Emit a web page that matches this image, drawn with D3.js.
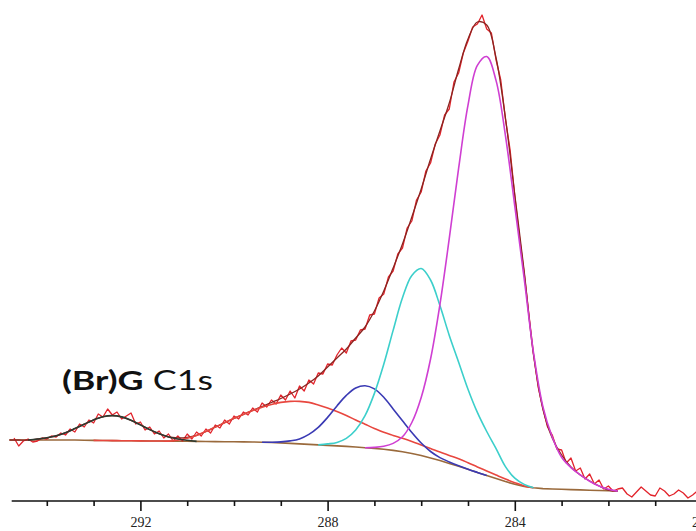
<!DOCTYPE html>
<html>
<head>
<meta charset="utf-8">
<script src="https://cdn.jsdelivr.net/npm/d3@7"></script>
<style>
html,body{margin:0;padding:0;background:#fff;}
svg{display:block;}
</style>
</head>
<body>
<svg id="chart" width="696" height="531"></svg>
<script>
// ---- data (binding energy eV, intensity a.u.) ----
const majorTicks = [292, 288, 284, 280];
const tickLabels = ["292", "288", "284", "280"];
const minorTicks = [294, 293, 291, 290, 289, 287, 286, 285, 283, 282, 281];

const background = [
[294.8,61],[294.6,61],[294.4,61],[294.2,61],[294.0,61],[293.8,61],[293.6,61],[293.4,61],[293.2,60.8],[293.0,60.6],
[292.8,60.5],[292.6,60.4],[292.4,60.3],[292.2,60.2],[292.0,60.1],[291.8,60],[291.6,60],[291.4,59.9],[291.2,59.8],[291.0,59.7],
[290.8,59.6],[290.6,59.5],[290.4,59.4],[290.2,59.3],[290.0,59.2],[289.8,59.1],[289.6,59],[289.4,58.8],[289.2,58.5],[289.0,58.1],
[288.8,57.6],[288.6,57.1],[288.4,56.6],[288.2,56.1],[288.0,55.6],[287.8,55.1],[287.6,54.6],[287.4,54],[287.2,53.3],[287.0,52.6],
[286.8,51.7],[286.6,50.6],[286.4,49.2],[286.2,47.5],[286.0,45.5],[285.8,43],[285.6,40.4],[285.4,37.6],[285.2,34.8],[285.0,31.8],
[284.8,28.6],[284.6,25.5],[284.4,22.4],[284.2,19.4],[284.0,16.8],[283.8,14.6],[283.6,13.2],[283.4,12.4],[283.2,12],[283.0,11.7],
[282.8,11.4],[282.6,11.1],[282.4,10.8],[282.2,10.5],[282.0,10.2],[281.8,9.9]
];

// component heights above the background
const peakShake = [
[294.4,0],[294.2,1],[294.0,2.2],[293.8,4.2],[293.6,7.3],[293.4,11.4],[293.2,16],[293.0,20.5],[292.8,23.8],[292.6,25],
[292.4,23.8],[292.2,20.5],[292.0,16],[291.8,11.4],[291.6,7.3],[291.4,4.2],[291.2,2.2],[291.0,1],[290.8,0]
];
const peakCOO = [
[293.0,0],[292.8,0],[292.6,0],[292.4,0],[292.2,0],[292.0,0],[291.8,0],[291.6,0],[291.4,0],[291.2,1],[291.0,3],
[290.8,6],[290.6,10],[290.4,14.5],[290.2,19],[290.0,23.5],[289.8,27.5],[289.6,31.5],[289.4,35],[289.2,38],[289.0,40.5],
[288.8,42],[288.6,42.5],[288.4,42],[288.2,40],[288.0,37.5],[287.8,34.5],[287.6,31],[287.4,27],[287.2,23.5],[287.0,20],
[286.8,17],[286.6,15],[286.4,13.5],[286.2,12],[286.0,10.5],[285.8,9.5],[285.6,8.5],[285.4,8],[285.2,7.5],[285.0,6.5],
[284.8,5.5],[284.6,4.5],[284.4,3.5],[284.2,2.5],[284.0,1.5],[283.8,0.5],[283.6,0]
];
const peakCO = [
[289.4,0],[289.2,0.3],[289.0,1],[288.8,2.5],[288.6,5],[288.4,10],[288.2,17.5],[288.0,28],[287.8,40],[287.6,51],
[287.4,59],[287.2,62],[287.0,59.5],[286.8,52],[286.6,41.5],[286.4,31],[286.2,21],[286.0,12.5],[285.8,6.5],[285.6,3],
[285.4,1.5],[285.2,0.5],[285.0,0],[284.8,0],[284.6,0]
];
const peakCOH = [
[288.2,0],[288.0,1.5],[287.8,3.5],[287.6,8],[287.4,17],[287.2,32],[287.0,55],[286.8,85],[286.6,120],[286.4,154],
[286.2,178],[286.0,187],[285.8,178],[285.6,155],[285.4,128],[285.2,104],[285.0,80],[284.8,60],[284.6,44],[284.4,30],
[284.2,15],[284.0,6],[283.8,2],[283.6,0]
];
const peakCC = [
[287.2,0],[287.0,1],[286.8,3],[286.6,7],[286.4,15],[286.2,31],[286.0,58],[285.8,99],[285.6,156],[285.4,225],
[285.2,298],[285.0,364],[284.8,407],[284.6,419],[284.4,398],[284.2,346],[284.0,278],[283.8,208],[283.6,135],[283.4,82],
[283.2,52],[283.0,32],[282.8,22],[282.6,15],[282.4,9],[282.2,4.5],[282.0,1.5],[281.8,0]
];

const envelope = [
[294.8,61],[294.6,61],[294.4,61],[294.2,62],[294.0,63.2],[293.8,65.2],[293.6,68.3],[293.4,72.4],[293.2,76.8],[293.0,81.1],
[292.8,84.3],[292.6,85.4],[292.4,84.1],[292.2,80.7],[292.0,76.1],[291.8,71.4],[291.6,67.3],[291.4,64.1],[291.2,63.2],[291.0,63.7],
[290.8,65.6],[290.6,69.5],[290.4,73.9],[290.2,78.3],[290.0,82.7],[289.8,86.6],[289.6,90.6],[289.4,94.5],[289.2,98.5],[289.0,102.5],
[288.8,107],[288.6,112],[288.4,118],[288.2,125],[288.0,134],[287.8,143],[287.6,152],[287.4,163],[287.2,174],[287.0,190],
[286.8,210],[286.6,233],[286.4,257],[286.2,284],[286.0,312],[285.8,342],[285.6,370],[285.4,398],[285.2,432],[285.0,462],
[284.8,479],[284.6,476],[284.4,443],[284.2,383],[284.0,306],[283.8,230],[283.6,146],[283.4,92],[283.2,63],[283.0,46],
[282.8,34],[282.6,26],[282.4,20],[282.2,15],[282.0,11],[281.8,10]
];

const rawData = [
[294.7,63],[294.6,55],[294.5,60],[294.4,62],[294.3,59],[294.2,60],[294.1,63],[294.0,62],[293.9,65],[293.8,64],
[293.7,68],[293.6,66],[293.5,72],[293.4,69],[293.3,77],[293.2,74],[293.1,81],[293.0,78],[292.9,87],[292.8,84],
[292.7,92],[292.6,86],[292.5,89],[292.4,82],[292.3,85],[292.2,88],[292.1,77],[292.0,79],[291.9,71],[291.8,74],
[291.7,67],[291.6,70],[291.5,63],[291.4,67],[291.3,60],[291.2,65],[291.1,60],[291.0,67],[290.9,62],[290.8,69],
[290.7,65],[290.6,72],[290.5,68],[290.4,76],[290.3,73],[290.2,81],[290.1,77],[290.0,85],[289.9,82],[289.8,89],
[289.7,86],[289.6,93],[289.5,89],[289.4,98],[289.3,94],[289.2,101],[289.1,97],[289.0,106],[288.9,101],[288.8,110],
[288.7,103],[288.6,115],[288.5,110],[288.4,121],[288.3,117],[288.2,128],[288.1,127],[288.0,137],[287.9,136],[287.8,146],
[287.7,153],[287.6,148],[287.5,160],[287.4,161],[287.3,171],[287.2,172],[287.1,186],[287.0,187],[286.9,203],[286.8,207],
[286.7,224],[286.6,230],[286.5,247],[286.4,253],[286.3,273],[286.2,280],[286.1,301],[286.0,309],[285.9,330],[285.8,338],
[285.7,357],[285.6,366],[285.5,386],[285.4,392],[285.3,419],[285.2,428],[285.1,448],[285.0,460],[284.9,474],[284.8,477],
[284.7,486],[284.6,472],[284.5,468],[284.4,441],[284.3,421],[284.2,382],[284.1,351],[284.0,305],[283.9,264],[283.8,228],
[283.7,187],[283.6,147],[283.5,114],[283.4,93],[283.3,74],[283.2,66],[283.1,52],[283.0,51],[282.9,38],[282.8,43],
[282.7,30],[282.6,33],[282.5,22],[282.4,27],[282.3,17],[282.2,21],[282.1,12],[282.0,15],[281.9,10],[281.8,12],
[281.7,13],[281.6,7],[281.5,4],[281.4,9],[281.3,14],[281.2,10],[281.1,6],[281.0,5],[280.9,13],[280.8,10],
[280.7,5],[280.6,7],[280.5,11],[280.4,8],[280.3,3],[280.2,6],[280.1,10],[280.0,4]
];

const axisStart = 294.75;

// ---- drawing ----
const svg = d3.select("#chart");
svg.append("rect").attr("width", 696).attr("height", 531).attr("fill", "#fff");

const x = d3.scaleLinear().domain([295, 280]).range([0, 702]);
const y = d3.scaleLinear().domain([0, 500]).range([501, 1]);

const bgMap = new Map(background.map(d => [d[0].toFixed(1), d[1]]));
const onBg = arr => arr.map(d => [d[0], d[1] + bgMap.get(d[0].toFixed(1))]);

const smooth = d3.line().x(d => x(d[0])).y(d => y(d[1])).curve(d3.curveCatmullRom.alpha(0.5));
const linear = d3.line().x(d => x(d[0])).y(d => y(d[1]));

const g = svg.append("g");

// background
g.append("path").attr("d", linear(background)).attr("fill", "none")
  .attr("stroke", "#9a6a3c").attr("stroke-width", 1.6);

// raw data
g.append("path").attr("d", linear(rawData)).attr("fill", "none")
  .attr("stroke", "#e2232b").attr("stroke-width", 1.3).attr("stroke-linejoin", "round");

// envelope
g.append("path").attr("d", smooth(envelope)).attr("fill", "none")
  .attr("stroke", "#8a2420").attr("stroke-width", 1.3);

// components
const comps = [
  {data: peakCOO, color: "#e8473f", w: 1.6},
  {data: peakCO, color: "#3a3ab4", w: 1.6},
  {data: peakCOH, color: "#3ccfcb", w: 1.6},
  {data: peakCC, color: "#cf3fd2", w: 1.6},
  {data: peakShake, color: "#2e3a30", w: 1.6}
];
comps.forEach(c => {
  g.append("path").attr("d", smooth(onBg(c.data))).attr("fill", "none")
    .attr("stroke", c.color).attr("stroke-width", c.w);
});

// axis
const axisG = svg.append("g").attr("transform", "translate(0,501)");
axisG.append("line").attr("x1", x(axisStart)).attr("x2", 696).attr("y1", 0).attr("y2", 0)
  .attr("stroke", "#111").attr("stroke-width", 1.6);
const minorAxis = d3.axisBottom(x).tickValues(minorTicks).tickSize(5).tickFormat("");
const majorAxis = d3.axisBottom(x).tickValues(majorTicks).tickSize(10).tickPadding(6)
  .tickFormat((d, i) => tickLabels[i]);
const mg = axisG.append("g").call(minorAxis);
const Mg = axisG.append("g").call(majorAxis);
[mg, Mg].forEach(a => {
  a.select(".domain").remove();
  a.selectAll(".tick line").attr("stroke", "#111").attr("stroke-width", 1.6);
});
Mg.selectAll(".tick text").attr("fill", "#222")
  .style("font-family", "'Liberation Serif', serif").style("font-size", "14px");

// title
const t = svg.append("text").attr("x", 62).attr("y", 390)
  .attr("textLength", 151).attr("lengthAdjust", "spacingAndGlyphs")
  .style("font-family", "Lato, 'Open Sans', sans-serif").style("font-size", "26px").attr("fill", "#111");
t.append("tspan").attr("font-weight", "bold").text("(Br)G");
t.append("tspan").attr("font-weight", "normal").text(" C1s");
</script>
</body>
</html>
